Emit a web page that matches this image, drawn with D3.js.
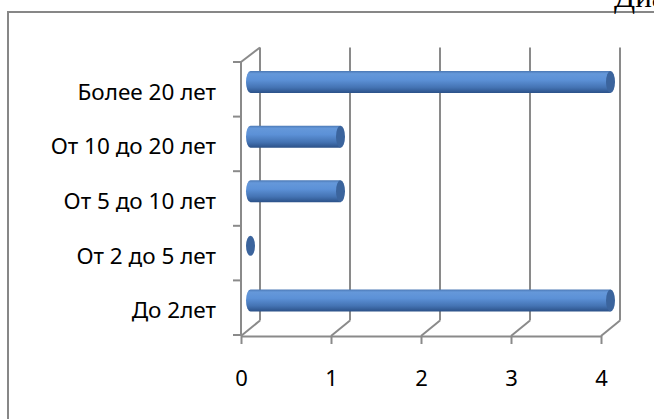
<!DOCTYPE html>
<html>
<head>
<meta charset="utf-8">
<script src="https://cdn.jsdelivr.net/npm/d3@7"></script>
<style>
  body { margin: 0; background: #fff; }
  svg { display: block; }
</style>
</head>
<body>
<div id="chart"></div>
<script>
// categories top to bottom
const categories = ["Более 20 лет", "От 10 до 20 лет", "От 5 до 10 лет", "От 2 до 5 лет", "До 2лет"];
const values = [4, 1, 1, 0, 4];
const xTicks = [0, 1, 2, 3, 4];

const W = 654, H = 419;
const depth = {dx: 19, dy: -14.5}; // 3d offset front -> back wall
const grey = "#8a8a8a";
const font = "'Noto Sans', sans-serif";

const svg = d3.select("#chart").append("svg")
    .attr("width", W).attr("height", H);

// gradient for the cylinders
const defs = svg.append("defs");
const grad = defs.append("linearGradient")
    .attr("id", "cyl").attr("x1", 0).attr("y1", 0).attr("x2", 0).attr("y2", 1);
[["0%", "#4b78b4"], ["12%", "#6598da"], ["40%", "#5c91d7"], ["75%", "#4473b3"], ["100%", "#2b5188"]]
    .forEach(s => grad.append("stop").attr("offset", s[0]).attr("stop-color", s[1]));

// outer frame (cut off at right and bottom)
svg.append("rect")
    .attr("x", 8).attr("y", 12).attr("width", 700).attr("height", 500)
    .attr("fill", "none").attr("stroke", "#878787").attr("stroke-width", 2);

// title, mostly outside the picture
svg.append("text")
    .attr("x", 614).attr("y", 7)
    .style("font-family", "'Liberation Serif', serif").style("font-size", "31px")
    .text("Диаграмма");

// scales
const x = d3.scaleLinear().domain([0, 4]).range([241, 601]);
const y = d3.scaleBand().domain(categories).range([62, 335]);
const yTop = y.range()[0], yBot = y.range()[1];

const walls = svg.append("g")
    .attr("stroke", grey).attr("stroke-width", 2).attr("fill", "none");

// back wall gridlines
walls.selectAll(".grid")
    .data(xTicks)
    .enter().append("line")
        .attr("x1", d => x(d) + depth.dx).attr("x2", d => x(d) + depth.dx)
        .attr("y1", yTop + depth.dy).attr("y2", yBot + depth.dy);

// floor diagonals
walls.selectAll(".floor")
    .data(xTicks)
    .enter().append("line")
        .attr("x1", d => x(d)).attr("y1", yBot + 1)
        .attr("x2", d => x(d) + depth.dx).attr("y2", yBot + depth.dy);

// left wall: front edge + top diagonal
walls.append("line")
    .attr("x1", x(0)).attr("x2", x(0)).attr("y1", yTop).attr("y2", yBot + 1);
walls.append("line")
    .attr("x1", x(0)).attr("y1", yTop)
    .attr("x2", x(0) + depth.dx).attr("y2", yTop + depth.dy);

// left ticks at band edges
const edges = categories.map(c => y(c)).concat([yBot]);
walls.selectAll(".ltick")
    .data(edges)
    .enter().append("line")
        .attr("x1", x(0) - 8).attr("x2", x(0))
        .attr("y1", d => d).attr("y2", d => d);

// bottom axis
const xAxis = svg.append("g")
    .attr("transform", `translate(0,${yBot + 1})`)
    .call(d3.axisBottom(x).tickValues(xTicks).tickSizeInner(8).tickSizeOuter(0).tickFormat(d3.format("d")));
xAxis.select(".domain").attr("stroke", grey).attr("stroke-width", 2);
xAxis.selectAll(".tick line").attr("stroke", grey).attr("stroke-width", 2);
xAxis.selectAll(".tick text")
    .attr("y", 50).attr("dy", 0)
    .style("font-family", font).style("font-size", "22px").attr("fill", "#000");

// category labels
svg.selectAll(".cat")
    .data(categories)
    .enter().append("text")
        .attr("x", 216)
        .attr("y", d => y(d) + y.bandwidth() / 2 + 10.5)
        .attr("text-anchor", "end")
        .style("font-family", font).style("font-size", "22.5px")
        .text(d => d);

// cylinders at mid depth
const ry = 11, rx = 4.5;
const bars = svg.selectAll(".bar")
    .data(categories.map((c, i) => ({cat: c, v: values[i]})))
    .enter().append("g");

const cy = d => y(d.cat) + y.bandwidth() / 2 + depth.dy / 2;
const x0 = x(0) + depth.dx / 2;
const x1 = d => x(d.v) + depth.dx / 2;

bars.filter(d => d.v > 0).append("path")
    .attr("d", d => `M${x1(d)},${cy(d) - ry} L${x0},${cy(d) - ry}` +
        ` A${rx},${ry} 0 0 0 ${x0},${cy(d) + ry} L${x1(d)},${cy(d) + ry} Z`)
    .attr("fill", "url(#cyl)");

bars.append("ellipse")
    .attr("cx", x1).attr("cy", cy)
    .attr("rx", rx).attr("ry", d => d.v > 0 ? ry : ry - 1)
    .attr("fill", "#3b649d");
</script>
</body>
</html>
